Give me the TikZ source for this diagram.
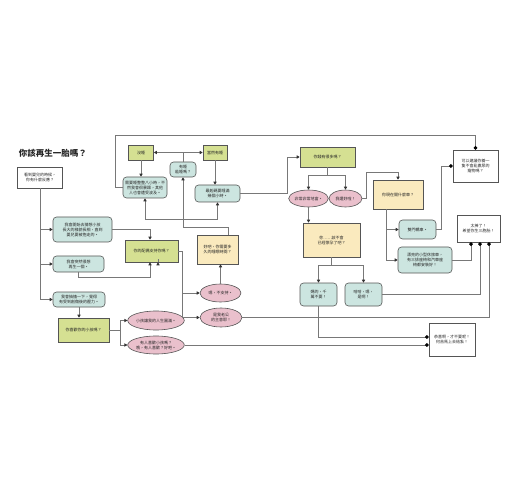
\documentclass[tikz,border=0pt]{standalone}
\usepackage{fontspec}
\setmainfont{Noto Sans CJK TC}
\usetikzlibrary{arrows.meta,shapes.geometric,calc}
\definecolor{gfill}{RGB}{213,224,146}
\definecolor{tfill}{RGB}{204,229,224}
\definecolor{pfill}{RGB}{234,192,204}
\definecolor{yfill}{RGB}{250,234,190}
\definecolor{edge}{RGB}{85,85,85}
\definecolor{wire}{RGB}{120,120,120}
\tikzset{
  base/.style={draw=edge,line width=0.6pt,align=center,inner sep=1pt,
    font=\fontsize{4}{5}\selectfont,text=black!85},
  gbox/.style={base,fill=gfill},
  ybox/.style={base,fill=yfill},
  tbox/.style={base,fill=tfill,rounded corners=3.5pt},
  pell/.style={base,fill=pfill,ellipse,inner sep=0pt},
  wbox/.style={base,fill=white},
  arr/.style={draw=wire,line width=0.8pt,-{Triangle[length=3pt,width=3.2pt,color=black!80]}},
  dotline/.style={draw=wire,line width=0.8pt,-{Circle[length=3.6pt,color=black]}},
  plain/.style={draw=wire,line width=0.8pt}
}
\begin{document}
\begin{tikzpicture}[x=1pt,y=-1pt]
\useasboundingbox (0,0) rectangle (520,500);
\node[font=\fontsize{8.5}{9}\selectfont\bfseries,text=black!85] (title) at (53,153) {你該再生一胎嗎？};
% nodes
\node[wbox,minimum width=45,minimum height=21] (start) at (40,177.5) {看到嬰兒的時候，\\你有什麼反應？};
\node[tbox,minimum width=59,minimum height=25] (b1) at (82.5,229.5) {我會開始去猜想小孩\\長大的樣貌長相，直到\\嬰兒要被抱走的。};
\node[tbox,minimum width=51,minimum height=16] (b2) at (78.5,264) {我會突然很想\\再生一個。};
\node[tbox,minimum width=52,minimum height=15] (b3) at (79,299.5) {我會抽搐一下，覺得\\有受到創傷後的壓力。};
\node[gbox,minimum width=51,minimum height=24] (kid) at (83.5,330) {你喜歡你的小孩嗎？};
\node[pell,minimum width=48,minimum height=19] (p1) at (156,320.5) {小孩讓我的人生圓滿。};
\node[pell,minimum width=48,minimum height=18] (p2) at (156,345) {有人喜歡小孩嗎？\\哦，有人喜歡？好吧。};
\node[gbox,minimum width=53,minimum height=22] (pei) at (151.5,251) {你的配偶支持你嗎？};
\node[pell,minimum width=41,minimum height=18] (um) at (220.5,293) {嗯，不支持。};
\node[pell,minimum width=42,minimum height=19] (lg) at (221,317.5) {是我老公\\的主意耶！};
\node[ybox,minimum width=41,minimum height=29] (sleep) at (217.5,249.5) {好吧，你需要多\\久的睡眠時間？};
\node[gbox,minimum width=25,minimum height=15] (nos) at (141,152.5) {沒睡};
\node[gbox,minimum width=24,minimum height=15] (yess) at (215,152.5) {當然有睡};
\node[tbox,minimum width=26,minimum height=15] (small) at (183,169.5) {有睡\\能睡嗎？};
\node[tbox,minimum width=44,minimum height=21] (eight) at (145,187.5) {需要睡整整八小時，不\\然我會很暴躁，其他\\人也會遭受波及。};
\node[tbox,minimum width=45,minimum height=17] (least) at (217.5,193.5) {最起碼要睡滿\\幾個小時。};
\node[gbox,minimum width=55,minimum height=20] (money) at (327.5,157) {你錢有很多嗎？};
\node[pell,minimum width=33,minimum height=17] (rich) at (308.5,198.5) {非常非常地富。};
\node[pell,minimum width=33,minimum height=17] (ok) at (345.5,198.5) {我還好啦！};
\node[ybox,minimum width=57,minimum height=34] (preg) at (331.5,240) {你……該不會\\已經懷孕了吧？};
\node[tbox,minimum width=37,minimum height=23] (ma) at (318.5,294.5) {媽的，千\\萬不要！};
\node[tbox,minimum width=37,minimum height=23] (hh) at (363.5,294.5) {哈哈，嗯，\\是啊！};
\node[ybox,minimum width=50,minimum height=29] (car) at (398,194.5) {你現在開什麼車？};
\node[tbox,minimum width=37,minimum height=19] (two) at (417.5,229.5) {雙門轎車。};
\node[tbox,minimum width=54,minimum height=26] (van) at (425,260) {漂亮的小型休旅車，\\有三排座椅和汽車座\\椅都安裝好！};
\node[wbox,minimum width=45,minimum height=32] (pet) at (475.5,166) {可以建議你養一\\隻不會亂撒尿的\\寵物嗎？};
\node[wbox,minimum width=43,minimum height=27] (great) at (478.5,228.5) {太棒了！\\希望你生三胞胎！};
\node[wbox,minimum width=46,minimum height=33] (cong) at (452,339.5) {恭喜啊，才不要呢！\\何苦馬上去結紮！};
% helper coordinates
\coordinate (tl) at (115,135);
\coordinate (okc) at (366,172);
\coordinate (hj) at (183,219);
% connectors
\draw[plain] (start.south) -- (start.south |- b3.west);
\draw[arr] (start.south |- b1.west) -- (b1.west);
\draw[arr] (start.south |- b2.west) -- (b2.west);
\draw[arr] (start.south |- b3.west) -- (b3.west);
\draw[arr] (b1.east) -| ($(pei.north)+(-1.5,0)$);
\draw[arr] (b2.south) -- ++(0,5) -| ($(pei.south)+(-1.5,0)$);
\draw[arr] ($(pei.south)+(6.5,0)$ |- p1.north) -- ($(pei.south)+(6.5,0)$);
\draw[arr] (b3.south) -- (b3.south |- kid.north);
\draw[arr] (kid.east) -- ++(11,0) |- (p1.west);
\draw[arr] (kid.east) -- ++(11,0) |- (p2.west);
\draw[arr] (pei.east) -- ++(4,0) |- (um.west);
\draw[arr] (pei.east) -- ++(4,0) |- (lg.west);
\draw[arr] (um.north) -- (um.north |- sleep.south);
\draw[arr] ($(sleep.north)+(10.5,0)$) -- ++(0,-7) -| (small.south);
\draw[arr] (hj) -| (eight.south);
\draw[arr] (hj) -| (least.south);
\draw[arr] (small.north) |- (nos.east);
\draw[arr] (small.north) |- (yess.west);
\draw[arr] (nos.south) -- (nos.south |- eight.north);
\draw[arr] (yess.south) -- (yess.south |- least.north);
\draw[dotline] (eight.west) -| (tl) -| (pet.north);
\draw[arr] (least.east) -| ($(money.west)+(-12,0)$) -- (money.west);
\draw[arr] (money.south) -- ++(0,8) -| (rich.north);
\draw[arr] (money.south) -- ++(0,8) -| (ok.north);
\draw[arr] (rich.south) -- (rich.south |- preg.north);
\draw[arr] (ok.east) -| (okc) -| (car.north);
\draw[arr] (preg.south) -- ++(0,8) -| (ma.north);
\draw[arr] (preg.south) -- ++(0,8) -| (hh.north);
\draw[arr] ($(car.south)+(-12,0)$) |- (two.west);
\draw[arr] ($(car.south)+(-12,0)$) |- (van.west);
\draw[dotline] (two.east) -- ++(5,0) |- (pet.west);
\draw[dotline] (van.east) -| ($(great.south)+(-7.5,0)$);
\draw[dotline] (hh.east) -| ($(great.south)+(1.5,0)$);
\draw[dotline] (lg.east) -| ($(great.south)+(10.5,0)$);
\draw[dotline] (ma.south) |- ($(cong.west)+(0,-2.5)$);
\draw[dotline] (p2.east) -- (p2.east -| cong.west);
\end{tikzpicture}
\end{document}
